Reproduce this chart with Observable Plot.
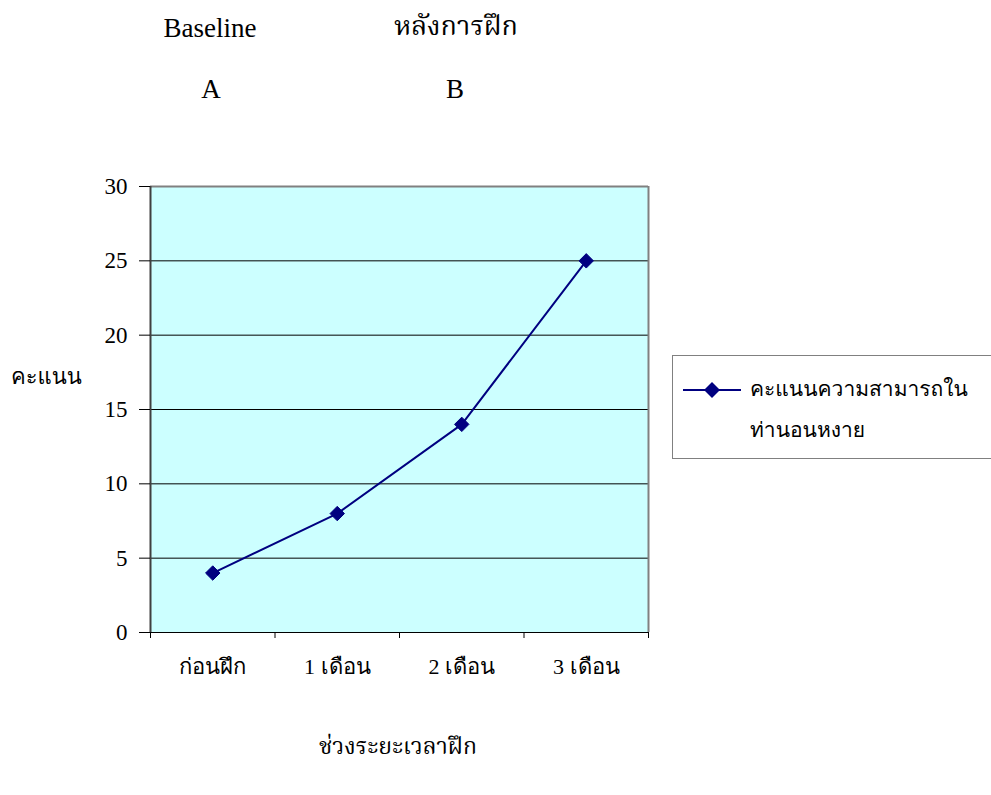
<!DOCTYPE html>
<html>
<head>
<meta charset="utf-8">
<script src="https://cdn.jsdelivr.net/npm/d3@7"></script>
<script src="https://cdn.jsdelivr.net/npm/@observablehq/plot@0.6"></script>
<style>
  html, body { margin: 0; padding: 0; background: #fff; }
  #wrap { position: relative; width: 991px; height: 795px; overflow: hidden; }
  #wrap svg { position: absolute; left: 0; top: 0; }
  .lbl { position: absolute; white-space: nowrap; color: #000; }
  .serif { font-family: "Liberation Serif", "Times New Roman", "Norasi", "Noto Serif Thai", serif; }
  .sans { font-family: "Loma", "Garuda", "Noto Sans Thai", "DejaVu Sans", "Noto Sans", sans-serif; }
  #legend {
    position: absolute; left: 672px; top: 355px; width: 340px; height: 104px;
    border: 1px solid #808080; background: #fff; box-sizing: border-box;
  }
</style>
</head>
<body>
<div id="wrap"></div>
<script>
// Training periods and score at each period
const periods = ["ก่อนฝึก", "1 เดือน", "2 เดือน", "3 เดือน"];
const scores = [4, 8, 14, 25];
const yTicks = [0, 5, 10, 15, 20, 25, 30];
const gridValues = [5, 10, 15, 20, 25];
const seriesName = ["คะแนนความสามารถใน", "ท่านอนหงาย"];
const phaseNames = ["Baseline", "หลังการฝึก"];
const phaseLetters = ["A", "B"];
const xTitle = "ช่วงระยะเวลาฝึก";
const yTitle = "คะแนน";

const navy = "#000080";
const serifFont = "'Liberation Serif', 'Times New Roman', 'Norasi', serif";
const data = periods.map((p, i) => ({period: p, index: i + 0.5, score: scores[i]}));

const chart = Plot.plot({
  width: 991,
  height: 795,
  marginLeft: 150,
  marginRight: 343,
  marginTop: 186,
  marginBottom: 163,
  style: {background: "transparent", fontFamily: serifFont},
  x: {domain: [0, periods.length], axis: null, label: null},
  y: {domain: [0, 30], axis: null, label: null},
  marks: [
    Plot.frame({fill: "#ccffff", stroke: null}),
    Plot.ruleY(gridValues, {stroke: "#000", strokeWidth: 1}),
    Plot.ruleY([30], {stroke: "#808080", strokeWidth: 2}),
    Plot.ruleX([periods.length], {stroke: "#808080", strokeWidth: 2}),
    Plot.ruleX([0], {stroke: "#404040", strokeWidth: 2}),
    Plot.ruleY([0], {stroke: "#000", strokeWidth: 1}),
    Plot.axisY({
      ticks: yTicks, tickSize: 11, tickPadding: 12, tickFormat: d => d, label: null,
      fontSize: 23, fontFamily: serifFont, stroke: "#000"
    }),
    Plot.axisX({
      ticks: d3.range(periods.length + 1), tickSize: 6, tickFormat: () => "", label: null,
      stroke: "#000"
    }),
    Plot.text(data, {
      x: "index", y: 0, text: "period", dy: 34,
      fontSize: 22, fontFamily: serifFont, fill: "#000"
    }),
    Plot.line(data, {x: "index", y: "score", stroke: navy, strokeWidth: 2}),
    Plot.dot(data, {
      x: "index", y: "score", symbol: "diamond2", r: 6.5,
      fill: navy, stroke: navy, strokeWidth: 1
    })
  ]
});

const wrap = document.getElementById("wrap");
wrap.appendChild(chart);

function label(text, cls, x, y, size, anchor) {
  const el = document.createElement("div");
  el.className = "lbl " + cls;
  el.textContent = text;
  el.style.fontSize = size + "px";
  el.style.lineHeight = "1";
  el.style.top = y + "px";
  el.style.left = x + "px";
  if (anchor === "middle") el.style.transform = "translateX(-50%)";
  wrap.appendChild(el);
  return el;
}

// Phase headers above the plot
label(phaseNames[0], "serif", 210, 15, 27, "middle");
label(phaseNames[1], "serif", 456, 13, 27, "middle");
label(phaseLetters[0], "serif", 211, 76, 27, "middle");
label(phaseLetters[1], "serif", 455, 76, 27, "middle");

// Axis titles
label(xTitle, "serif", 398, 735, 23, "middle");
label(yTitle, "sans", 11, 366, 22);

// Legend
const legend = document.createElement("div");
legend.id = "legend";
legend.innerHTML =
  '<svg width="70" height="20" style="position:absolute;left:10px;top:24px">' +
  '<line x1="0" y1="10" x2="58" y2="10" stroke="' + navy + '" stroke-width="2"/>' +
  '<path d="M29,2L37,10L29,18L21,10Z" fill="' + navy + '"/></svg>' +
  '<div class="lbl sans" style="left:77px;top:22px;font-size:21px;line-height:1">' + seriesName[0] + '</div>' +
  '<div class="lbl sans" style="left:77px;top:63px;font-size:21px;line-height:1">' + seriesName[1] + '</div>';
wrap.appendChild(legend);
</script>
</body>
</html>
